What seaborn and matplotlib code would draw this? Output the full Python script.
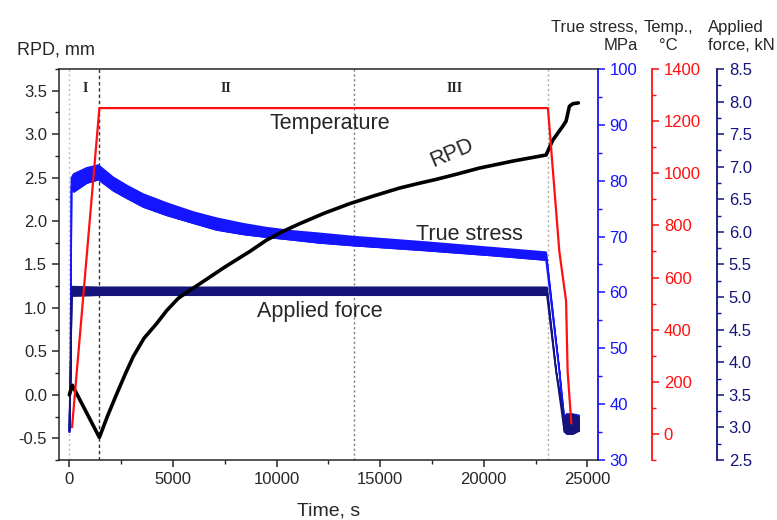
import numpy as np
import pandas as pd
import matplotlib
matplotlib.use("Agg")
from matplotlib import pyplot as plt
from matplotlib.ticker import MultipleLocator, FormatStrFormatter
import seaborn as sns

# values
time_rpd = [0, 145, 1450, 1850, 2285, 2700, 3085, 3600, 4213, 4700, 5254, 5800,
            6308, 7500, 8710, 9514, 10300, 11120, 12300, 13530, 14700, 15940,
            16800, 17710, 18700, 19795, 21400, 23010, 23330, 23811, 23975,
            24134, 24293, 24568]
rpd = [0.0, 0.11, -0.49, -0.24, 0.01, 0.24, 0.44, 0.65, 0.82, 0.97, 1.11, 1.20,
       1.28, 1.47, 1.65, 1.78, 1.88, 1.97, 2.09, 2.20, 2.29, 2.38,
       2.43, 2.48, 2.54, 2.61, 2.69, 2.76, 2.93, 3.09, 3.15,
       3.32, 3.35, 3.36]

time_temp = [130, 1450, 23100, 23650, 23975, 24050, 24230]
temp = [25, 1250, 1250, 700, 510, 240, 40]

time_stress = [0, 60, 100, 207, 838, 1400, 2121, 2800, 3567, 4700, 5977, 7100,
               8387, 9500, 10797, 12000, 13689, 17227, 20437, 23010, 23650,
               23890, 24000, 24300, 24600]
stress_hi = [35, 48, 80.5, 81.2, 82.3, 82.8, 80.6, 79.1, 77.6, 76.0, 74.4, 73.3,
             72.3, 71.6, 71.0, 70.6, 70.0, 69.0, 68.0, 67.2, 46,
             37.5, 38.2, 38.2, 38.0]
stress_lo = [35, 48, 79.0, 78.0, 79.6, 80.2, 78.2, 76.8, 75.3, 73.8, 72.4, 71.2,
             70.4, 69.9, 69.4, 68.9, 68.4, 67.5, 66.6, 65.8, 46,
             35.0, 34.9, 35.0, 35.2]

time_force = [0, 60, 110, 1450, 13750, 23050, 23490, 23890, 24000, 24300, 24600]
force_hi = [2.95, 3.8, 5.16, 5.15, 5.15, 5.15, 3.87, 3.1, 3.2, 3.2, 3.15]
force_lo = [2.95, 3.8, 5.02, 5.03, 5.03, 5.03, 3.87, 2.95, 2.9, 2.9, 2.95]

stage_lines = [0, 1450, 13750, 23100]
stage_names = ["I", "II", "III"]
stage_pos = [760, 7556, 18595]

c_stress = "#1414ff"
c_temp = "#ff1010"
c_force = "#14147a"

sns.set_style("ticks")
plt.rcParams["font.family"] = ["Liberation Sans", "DejaVu Sans"]
plt.rcParams["axes.unicode_minus"] = False

fig = plt.figure(figsize=(7.77, 5.2), dpi=100, facecolor="white")
ax = fig.add_axes([0.0759, 0.1154, 0.6933, 0.7519])
ax_s = ax.twinx()
ax_t = ax.twinx()
ax_f = ax.twinx()

# stacking: stress band at the back, RPD above it, temperature on top
ax_s.set_zorder(1)
ax_f.set_zorder(2)
ax.set_zorder(3)
ax_t.set_zorder(4)
ax.patch.set_visible(False)

# stage separators
styles = [("#c0c0c0", (0, (1.5, 2))), ("#333333", (0, (2.5, 2))),
          ("#777777", (0, (1.5, 2))), ("#aaaaaa", (0, (1.5, 2)))]
for xv, (c, ls) in zip(stage_lines, styles):
    ax_s.axvline(xv, color=c, ls=ls, lw=1.0, zorder=0)

# true stress (noisy band)
ax_s.fill_between(time_stress, stress_lo, stress_hi, color=c_stress, lw=0.6)
sns.lineplot(x=time_stress, y=stress_hi, ax=ax_s, color=c_stress, lw=1.2,
             estimator=None, sort=False)
sns.lineplot(x=time_stress, y=stress_lo, ax=ax_s, color=c_stress, lw=1.2,
             estimator=None, sort=False)

# applied force (noisy band)
ax_f.fill_between(time_force, force_lo, force_hi, color=c_force, lw=0.6)
sns.lineplot(x=time_force, y=force_hi, ax=ax_f, color=c_force, lw=1.2,
             estimator=None, sort=False)
sns.lineplot(x=time_force, y=force_lo, ax=ax_f, color=c_force, lw=1.2,
             estimator=None, sort=False)

# RPD
sns.lineplot(x=time_rpd, y=rpd, ax=ax, color="black", lw=2.6,
             estimator=None, sort=False)

# temperature
sns.lineplot(x=time_temp, y=temp, ax=ax_t, color=c_temp, lw=1.6,
             estimator=None, sort=False)

# main axis
ax.set_xlim(-500, 25500)
ax.set_ylim(-0.75, 3.75)
ax.xaxis.set_major_locator(MultipleLocator(5000))
ax.xaxis.set_minor_locator(MultipleLocator(2500))
ax.yaxis.set_major_locator(MultipleLocator(0.5))
ax.yaxis.set_minor_locator(MultipleLocator(0.25))
ax.yaxis.set_major_formatter(FormatStrFormatter("%.1f"))
ax.set_xlabel("Time, s", fontsize=14, labelpad=11)
ax.set_ylabel("")
ax.tick_params(which="major", length=5, width=1.1, labelsize=12, direction="out")
ax.tick_params(which="minor", length=3, width=1.0, direction="out")
for sp in ax.spines.values():
    sp.set_linewidth(1.1)
ax.spines["right"].set_visible(False)

# stress axis
ax_s.set_ylim(30, 100)
ax_s.yaxis.set_major_locator(MultipleLocator(10))
ax_s.yaxis.set_minor_locator(MultipleLocator(5))
ax_s.set_ylabel("")

# temperature axis
ax_t.set_ylim(-100, 1400)
ax_t.yaxis.set_major_locator(MultipleLocator(200))
ax_t.yaxis.set_minor_locator(MultipleLocator(100))
ax_t.spines["right"].set_position(("axes", 1.1008))
ax_t.set_ylabel("")

# force axis
ax_f.set_ylim(2.5, 8.5)
ax_f.yaxis.set_major_locator(MultipleLocator(0.5))
ax_f.yaxis.set_minor_locator(MultipleLocator(0.25))
ax_f.yaxis.set_major_formatter(FormatStrFormatter("%.1f"))
ax_f.spines["right"].set_position(("axes", 1.2215))
ax_f.set_ylabel("")

for a, c in [(ax_s, c_stress), (ax_t, c_temp), (ax_f, c_force)]:
    for name in ["left", "top", "bottom"]:
        a.spines[name].set_visible(False)
    a.spines["right"].set_visible(True)
    a.spines["right"].set_color(c)
    a.spines["right"].set_linewidth(1.3)
    a.tick_params(axis="y", which="major", colors=c, labelcolor=c, length=5,
                  width=1.1, labelsize=12, direction="out")
    a.tick_params(axis="y", which="minor", colors=c, length=3, width=1.0,
                  direction="out")

# annotations
ax.text(12567, 3.12, "Temperature", fontsize=15.5, ha="center", va="center")
ax.text(18450, 2.785, "RPD", fontsize=15.5, ha="center", va="center", rotation=23)
ax.text(19317, 1.85, "True stress", fontsize=15.5, ha="center", va="center")
ax.text(12085, 0.96, "Applied force", fontsize=15.5, ha="center", va="center")
for name, xp in zip(stage_names, stage_pos):
    ax.text(xp, 3.52, name, fontsize=10, ha="center", va="center",
            family="Liberation Serif", fontweight="bold")

fig.text(17 / 777, 1 - 50 / 520, "RPD, mm", fontsize=13, ha="left", va="center")
fig.text(638 / 777, 1 - 36.5 / 520, "True stress,\nMPa", fontsize=12,
         ha="right", va="center", multialignment="right", linespacing=1.3)
fig.text(668 / 777, 1 - 36.5 / 520, "Temp.,\n°C", fontsize=12,
         ha="center", va="center", multialignment="center", linespacing=1.3)
fig.text(708 / 777, 1 - 36.5 / 520, "Applied\nforce, kN", fontsize=12,
         ha="left", va="center", multialignment="left", linespacing=1.3)

fig.savefig("out.png", dpi=100, facecolor="white")
